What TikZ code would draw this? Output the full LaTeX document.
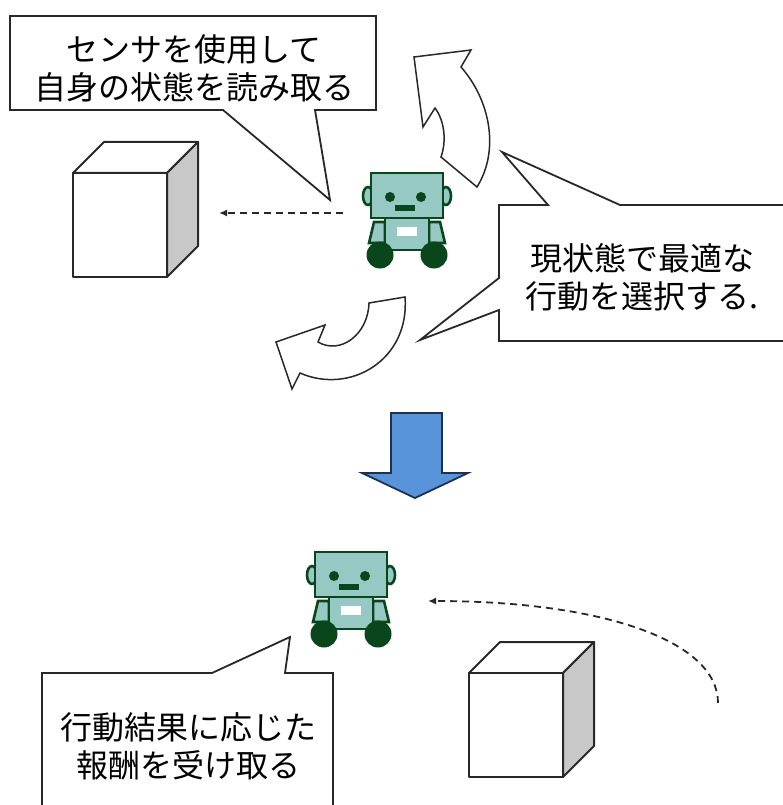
\documentclass[tikz,border=0pt]{standalone}
\usepackage{fontspec}
\usetikzlibrary{arrows.meta}
\newfontfamily\jp{Noto Sans CJK JP}
\definecolor{robotfill}{RGB}{150,200,196}
\definecolor{robotline}{RGB}{10,70,28}
\definecolor{bluefill}{RGB}{88,148,218}
\definecolor{blueline}{RGB}{30,50,80}
\definecolor{sideface}{RGB}{200,200,200}
\definecolor{inkline}{RGB}{40,40,40}
\begin{document}
\begin{tikzpicture}[x=1pt,y=-1pt,
  bubble/.style={draw=inkline,fill=white,line width=1.8pt,line join=miter},
  bubbletext/.style={font=\jp\fontsize{32}{38}\selectfont,align=center,inner sep=0pt,text=black},
  turnarrow/.style={draw=inkline,fill=white,line width=1.5pt},
  sensing/.style={draw=inkline,line width=1.8pt,dash pattern=on 7pt off 5pt,-{Latex[length=8pt,width=7pt]}},
  robotpart/.style={draw=robotline,fill=robotfill,line width=2.6pt},
  robotdark/.style={fill=robotline},
  robot/.pic={
    % ears behind the head
    \path[robotpart] (-3,23) ellipse[x radius=5,y radius=9];
    \path[robotpart] (75,23) ellipse[x radius=5,y radius=9];
    % arms
    \path[robotpart] (3,49) -- (14,49) -- (14,70) -- (-2,70) -- cycle;
    \path[robotpart] (69,49) -- (58,49) -- (58,70) -- (74,70) -- cycle;
    % torso and head
    \path[robotpart] (14,45) rectangle (58,77);
    \path[robotpart] (0,0) rectangle (72,45);
    % wheels
    \path[robotdark] (9,82) circle[radius=13.5];
    \path[robotdark] (63,82) circle[radius=13.5];
    % face and chest plate
    \path[robotdark] (19,24) circle[radius=5];
    \path[robotdark] (50,24) circle[radius=5];
    \path[robotdark] (24,32) rectangle (44,38);
    \path[fill=white] (26,54) rectangle (46,63);
  },
  box/.pic={
    \path[draw=inkline,line width=2pt,fill=white,line join=round]
      (0,0) -- (31,-31) -- (125,-31) -- (94,0) -- cycle;
    \path[draw=inkline,line width=2pt,fill=sideface,line join=round]
      (94,0) -- (125,-31) -- (125,73) -- (94,104) -- cycle;
    \path[draw=inkline,line width=2pt,fill=white,line join=round]
      (0,0) rectangle (94,104);
  }]
\useasboundingbox (0,0) rectangle (783,805);
\begin{scope}
\clip (0,0) rectangle (783,805);

% upper scene: robot, box and sensing
\pic at (73,173) {box};
\pic at (371,173) {robot};
\coordinate (senseFrom) at (343,213);
\coordinate (senseTo) at (219,213);
\draw[sensing] (senseFrom) -- (senseTo);

% turning arrows around the robot
\path[turnarrow] (414,57) -- (471,50) -- (461,67)
  .. controls (490,100) and (500,150) .. (477,187)
  -- (441,157)
  .. controls (447,140) and (444,120) .. (435,108)
  -- (423,127) -- cycle;
\path[turnarrow] (276,342) -- (325,325) -- (318,342)
  .. controls (340,355) and (368,335) .. (369,303)
  -- (405,297)
  .. controls (410,360) and (350,395) .. (300,373)
  -- (292,389) -- cycle;

% callout: sensing
\path[bubble] (10,16) -- (376,16) -- (376,110) -- (315,110) -- (330,200)
  -- (223,110) -- (10,110) -- cycle;
\node[bubbletext] (senseText) at (194,68) {センサを使用して\\自身の状態を読み取る};

% callout: action selection
\path[bubble] (499,205) -- (548,205) -- (502,152) -- (620,205) -- (800,205)
  -- (800,341) -- (499,341) -- (499,310) -- (420,340) -- (499,278) -- cycle;
\node[bubbletext] (actText) at (642,277) {現状態で最適な\\行動を選択する.};

% transition arrow
\path[draw=blueline,fill=bluefill,line width=1.8pt,line join=miter]
  (391,413) -- (442,413) -- (442,473) -- (468,473) -- (415,498)
  -- (362,473) -- (391,473) -- cycle;

% lower scene: robot, box and reward
\pic at (469,673) {box};
\pic at (315,552) {robot};
\coordinate (rewardFrom) at (718,703);
\coordinate (rewardTo) at (428,601);
\draw[sensing] (rewardFrom) .. controls (718,640) and (600,601) .. (rewardTo);

% callout: reward
\path[bubble] (42,673) -- (212,673) -- (290,637) -- (285,673) -- (333,673)
  -- (333,820) -- (42,820) -- cycle;
\node[bubbletext] (rewardText) at (188,746) {行動結果に応じた\\報酬を受け取る};
\end{scope}
\end{tikzpicture}
\end{document}
